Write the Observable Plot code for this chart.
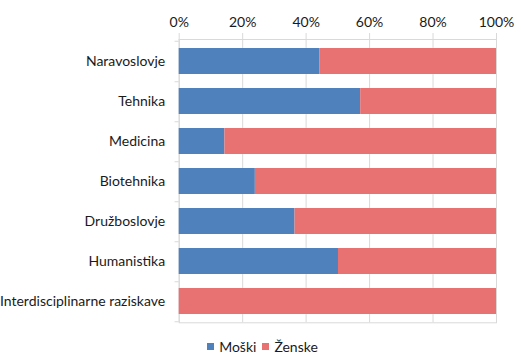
<!DOCTYPE html>
<html>
<head>
<meta charset="utf-8">
<script src="https://cdn.jsdelivr.net/npm/d3@7"></script>
<script src="https://cdn.jsdelivr.net/npm/@observablehq/plot@0.6"></script>
<style>
  html, body { margin: 0; padding: 0; background: #fff; }
  body { width: 521px; height: 363px; overflow: hidden; font-family: Lato, "Open Sans", sans-serif; }
  #legend { display: flex; justify-content: center; align-items: center; gap: 6px; font-size: 14px; color: #1a1a1a; margin-top: 8px; padding-left: 4px; }
  .item { display: flex; align-items: center; gap: 5px; }
  .sw { width: 7px; height: 7px; display: inline-block; }
</style>
</head>
<body>
<div id="chart"></div>
<div id="legend"></div>
<script>
const categories = ["Naravoslovje", "Tehnika", "Medicina", "Biotehnika", "Družboslovje", "Humanistika", "Interdisciplinarne raziskave"];
const series = ["Moški", "Ženske"];
const moski = [44.4, 57.2, 14.4, 24.0, 36.5, 50.2, 0];
const zenske = [55.6, 42.8, 85.6, 76.0, 63.5, 49.8, 100];
const xTicks = [0, 20, 40, 60, 80, 100];
const colors = ["#4F81BD", "#E87272"];

const data = [];
categories.forEach((c, i) => {
  data.push({cat: c, series: series[0], value: moski[i]});
  data.push({cat: c, series: series[1], value: zenske[i]});
});

const gridColor = "#d9d9d9";
const step = (322.3 - 39) / categories.length;

const chart = Plot.plot({
  width: 521,
  height: 330,
  marginTop: 39,
  marginBottom: 7.7,
  marginLeft: 178.7,
  marginRight: 25,
  style: {fontFamily: "Lato, 'Open Sans', sans-serif", fontSize: "14px", color: "#1a1a1a", background: "#fff"},
  x: {domain: [0, 100], axis: null, label: null},
  y: {domain: categories, paddingInner: 0.35, paddingOuter: 0.175, axis: null, label: null},
  color: {domain: series, range: colors},
  marks: [
    Plot.gridX(xTicks, {stroke: gridColor, strokeOpacity: 1, strokeWidth: 1}),
    Plot.frame({stroke: gridColor, strokeWidth: 1}),
    Plot.barX(data, {x: "value", y: "cat", fill: "series", inset: 0}),
    Plot.axisX(xTicks, {anchor: "top", label: null, tickSize: 7, tickPadding: 6, stroke: gridColor, tickFormat: d => d + "%", fill: "#1a1a1a", fontSize: 14}),
    Plot.ruleY(categories, {y: d => d, x1: -1.3, x2: 0, dy: step / 2, stroke: gridColor}),
    Plot.ruleY(categories.slice(0, 1), {y: d => d, x1: -1.3, x2: 0, dy: -step / 2, stroke: gridColor}),
    Plot.axisY(categories, {anchor: "left", label: null, tickSize: 0, tickPadding: 14, fill: "#1a1a1a", fontSize: 14})
  ]
});
document.getElementById("chart").appendChild(chart);

const legend = document.getElementById("legend");
series.forEach((s, i) => {
  const item = document.createElement("span");
  item.className = "item";
  const sw = document.createElement("span");
  sw.className = "sw";
  sw.style.background = colors[i];
  const t = document.createElement("span");
  t.textContent = s;
  item.appendChild(sw);
  item.appendChild(t);
  legend.appendChild(item);
});
</script>
</body>
</html>
